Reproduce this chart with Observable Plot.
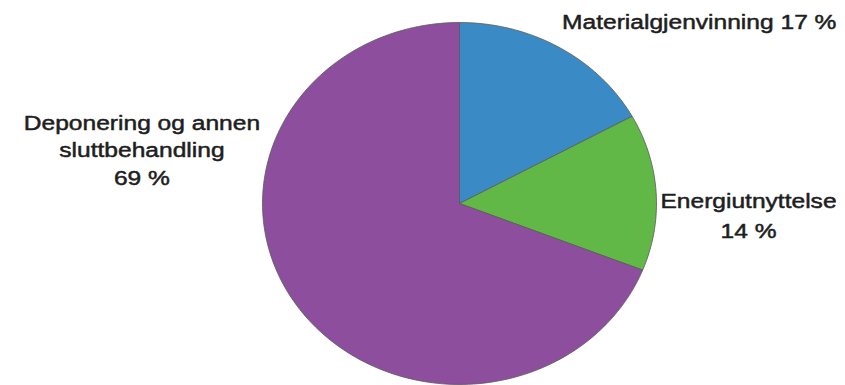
<!DOCTYPE html>
<html>
<head>
<meta charset="utf-8">
<script src="https://cdn.jsdelivr.net/npm/d3@7"></script>
<script src="https://cdn.jsdelivr.net/npm/@observablehq/plot@0.6"></script>
<style>
  html, body { margin: 0; padding: 0; background: #fff; }
  svg { display: block; }
</style>
</head>
<body>
<div id="chart"></div>
<script>
// ---- data ----
const categories = ["Materialgjenvinning", "Energiutnyttelse", "Deponering og annen sluttbehandling"];
const values = [17, 14, 69];
const labelLines = [
  ["Materialgjenvinning 17 %"],
  ["Energiutnyttelse", "14 %"],
  ["Deponering og annen", "sluttbehandling", "69 %"]
];

// ---- style / layout ----
const colors = ["#3a8bc5", "#62b847", "#8d4e9d"];
const labelPos = [ // in pie units (radius = 1)
  {x: 1.217, y: 1.011, lineHeight: 1.3},
  {x: 1.467, y: -0.055, lineHeight: 1.42},
  {x: -1.612, y: 0.304, lineHeight: 1.31}
];

const pie = d3.pie().sort(null).value(d => d.value)
  .startAngle(0).endAngle(2 * Math.PI);
const arcs = pie(categories.map((c, i) => ({category: c, value: values[i]})));

const pts = [];
arcs.forEach(a => {
  const steps = Math.max(4, Math.ceil((a.endAngle - a.startAngle) / (2 * Math.PI) * 240));
  pts.push({category: a.data.category, x: 0, y: 0});
  for (let k = 0; k <= steps; k++) {
    const t = a.startAngle + (a.endAngle - a.startAngle) * k / steps;
    pts.push({category: a.data.category, x: Math.sin(t), y: Math.cos(t)});
  }
  pts.push({category: a.data.category, x: 0, y: 0});
});

const textMarks = labelLines.map((lines, i) => Plot.text([{label: lines.join("\n")}], {
  x: () => labelPos[i].x,
  y: () => labelPos[i].y,
  text: "label",
  textAnchor: "middle",
  lineAnchor: "middle",
  lineHeight: labelPos[i].lineHeight,
  fontSize: 21,
  fill: "#1e1e1e",
  stroke: "#1e1e1e",
  strokeWidth: 0.5
}));

const plot = Plot.plot({
  width: 845,
  height: 385,
  margin: 0,
  style: {fontFamily: "'Liberation Sans', Arial, sans-serif", background: "#fff"},
  x: {domain: [-1, 1], range: [262, 656], axis: null},
  y: {domain: [-1, 1], range: [384, 22], axis: null},
  color: {domain: categories, range: colors},
  marks: [
    Plot.line(pts, {x: "x", y: "y", z: "category", fill: "category", stroke: "#5a5a5a", strokeWidth: 0.8, strokeLinejoin: "round"}),
    ...textMarks
  ]
});

// widen text horizontally to match the reference's stretched lettering
d3.select(plot).selectAll("text").each(function() {
  const tr = this.getAttribute("transform");
  if (tr) this.setAttribute("transform", tr + " scale(1.17,1)");
});

document.getElementById("chart").appendChild(plot);
</script>
</body>
</html>
